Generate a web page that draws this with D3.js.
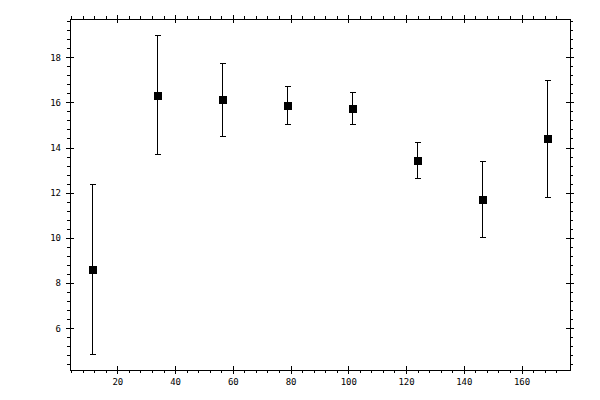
<!DOCTYPE html>
<html><head><meta charset="utf-8">
<script src="https://cdn.jsdelivr.net/npm/d3@7"></script>
<style>
html,body{margin:0;padding:0;background:#fff;}
svg{display:block;}
.tick text{font-family:"DejaVu Sans Mono","DejaVu Sans",monospace;font-size:9px;fill:#000;}
</style></head>
<body>
<script>
const xValues = [11.25, 33.75, 56.25, 78.75, 101.25, 123.75, 146.25, 168.75];
const yValues = [8.63, 16.33, 16.14, 15.88, 15.74, 13.45, 11.73, 14.40];
const yErrors = [3.76, 2.63, 1.62, 0.86, 0.70, 0.78, 1.69, 2.58];
const xMajorTicks = [20, 40, 60, 80, 100, 120, 140, 160];
const yMajorTicks = [6, 8, 10, 12, 14, 16, 18];

const W = 600, H = 400;
const L = 70, R = 570, T = 19, B = 370;
const svg = d3.select("body").append("svg").attr("width", W).attr("height", H);

const x = d3.scaleLinear().domain([3.6, 176.8]).range([L, R]);
const y = d3.scaleLinear().domain([4.15, 19.69]).range([B, T]);

const xMinor = d3.range(4, 176, 4).filter(v => !xMajorTicks.includes(v));
const yMinor = d3.range(4.4, 19.7, 0.4).map(v => +v.toFixed(1)).filter(v => !yMajorTicks.includes(Math.round(v*10)/10) );

function ax(gen, tx, ty, ticks, size, labels) {
  const a = gen.tickValues(ticks).tickSizeInner(size).tickSizeOuter(0);
  if (!labels) a.tickFormat("");
  else a.tickFormat(d3.format("d")).tickPadding(5);
  const g = svg.append("g").attr("transform", `translate(${tx},${ty})`).call(a);
  g.select(".domain").remove();
  g.selectAll("line").attr("stroke", "#000").attr("stroke-width", 1).attr("shape-rendering", "crispEdges");
  return g;
}
// bottom
ax(d3.axisBottom(x), 0, B, xMinor, 3, false);
ax(d3.axisBottom(x), 0, B, xMajorTicks, 4, true);
ax(d3.axisTop(x), 0, B, xMajorTicks, 4, false);
// top
ax(d3.axisTop(x), 0, T, xMinor, 3, false);
ax(d3.axisTop(x), 0, T, xMajorTicks, 4, false);
ax(d3.axisBottom(x), 0, T, xMajorTicks, 4, false);
// left
ax(d3.axisLeft(y), L, 0, yMinor, 3, false);
ax(d3.axisLeft(y), L, 0, yMajorTicks, 4, true);
ax(d3.axisRight(y), L, 0, yMajorTicks, 4, false);
// right
ax(d3.axisRight(y), R, 0, yMinor, 3, false);
ax(d3.axisRight(y), R, 0, yMajorTicks, 4, false);
ax(d3.axisLeft(y), R, 0, yMajorTicks, 4, false);

// frame
svg.append("rect").attr("x", L + 0.5).attr("y", T + 0.5).attr("width", R - L).attr("height", B - T)
  .attr("fill", "none").attr("stroke", "#000").attr("stroke-width", 1);

const data = xValues.map((v, i) => ({x: v, y: yValues[i], e: yErrors[i]}));
const g = svg.append("g").attr("shape-rendering", "crispEdges");
const px = d => Math.round(x(d.x)) + 0.5;
g.selectAll(".eb").data(data).enter().append("line")
  .attr("x1", px).attr("x2", px)
  .attr("y1", d => y(d.y + d.e)).attr("y2", d => y(d.y - d.e))
  .attr("stroke", "#000");
g.selectAll(".cu").data(data).enter().append("line")
  .attr("x1", d => px(d) - 3).attr("x2", d => px(d) + 3)
  .attr("y1", d => Math.round(y(d.y + d.e)) + 0.5).attr("y2", d => Math.round(y(d.y + d.e)) + 0.5)
  .attr("stroke", "#000");
g.selectAll(".cd").data(data).enter().append("line")
  .attr("x1", d => px(d) - 3).attr("x2", d => px(d) + 3)
  .attr("y1", d => Math.round(y(d.y - d.e)) + 0.5).attr("y2", d => Math.round(y(d.y - d.e)) + 0.5)
  .attr("stroke", "#000");
g.selectAll(".pt").data(data).enter().append("rect")
  .attr("x", d => Math.round(x(d.x)) - 3.5).attr("y", d => Math.round(y(d.y)) - 3.5)
  .attr("width", 8).attr("height", 8).attr("fill", "#000");
</script>
</body></html>
